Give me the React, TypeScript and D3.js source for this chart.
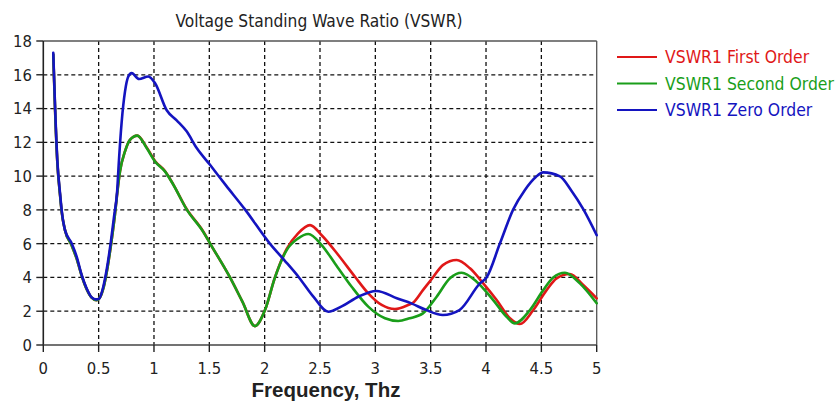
import React from "react";
import * as d3 from "d3";

const seriesNames = ["VSWR1 First Order", "VSWR1 Second Order", "VSWR1 Zero Order"];
const seriesColors = ["#e01818", "#1a9e1a", "#1414c0"];

const xTicks = [0, 0.5, 1, 1.5, 2, 2.5, 3, 3.5, 4, 4.5, 5];
const xTickLabels = ["0", "0.5", "1", "1.5", "2", "2.5", "3", "3.5", "4", "4.5", "5"];
const yTicks = [0, 2, 4, 6, 8, 10, 12, 14, 16, 18];

// Zero order (blue)
const zeroX = [0.09, 0.106, 0.127, 0.151, 0.166, 0.196, 0.256, 0.302, 0.347, 0.392, 0.437, 0.475, 0.505, 0.542, 0.572, 0.609, 0.639, 0.668, 0.681, 0.708, 0.738, 0.768, 0.798, 0.865, 0.949, 1.01, 1.115, 1.205, 1.295, 1.386, 1.506, 1.65, 1.822, 2.045, 2.177, 2.31, 2.44, 2.575, 2.7, 2.846, 3.01, 3.2, 3.33, 3.45, 3.61, 3.76, 3.945, 4.005, 4.126, 4.246, 4.35, 4.45, 4.517, 4.668, 4.77, 4.88, 5.0];
const zeroY = [17.3, 14.2, 10.9, 9.0, 7.99, 6.8, 6.02, 5.22, 4.14, 3.35, 2.82, 2.7, 2.75, 3.45, 4.44, 6.05, 7.6, 9.17, 10.67, 13.2, 15.0, 15.9, 16.1, 15.75, 15.9, 15.5, 13.9, 13.3, 12.65, 11.66, 10.67, 9.45, 8.03, 6.02, 5.03, 4.0, 2.86, 1.97, 2.3, 2.86, 3.2, 2.75, 2.45, 2.1, 1.78, 2.07, 3.65, 4.0, 6.02, 8.03, 9.17, 9.95, 10.22, 9.98, 9.15, 8.03, 6.5];

// Second order (green)
const secondX = [0.09, 0.106, 0.127, 0.151, 0.166, 0.196, 0.256, 0.302, 0.347, 0.392, 0.437, 0.48, 0.51, 0.548, 0.578, 0.615, 0.645, 0.668, 0.693, 0.738, 0.783, 0.849, 0.934, 1.009, 1.099, 1.175, 1.295, 1.445, 1.506, 1.687, 1.8, 1.912, 2.003, 2.093, 2.199, 2.3, 2.394, 2.515, 2.635, 2.786, 2.936, 3.087, 3.207, 3.31, 3.43, 3.554, 3.674, 3.78, 3.915, 4.065, 4.186, 4.261, 4.397, 4.517, 4.607, 4.713, 4.848, 5.0];
const secondY = [17.2, 14.0, 10.8, 8.9, 7.9, 6.8, 5.9, 5.1, 4.1, 3.3, 2.8, 2.65, 2.8, 3.5, 4.5, 6.1, 7.6, 9.0, 10.28, 11.46, 12.15, 12.4, 11.66, 10.87, 10.28, 9.49, 8.03, 6.7, 6.02, 4.0, 2.55, 1.12, 2.07, 4.0, 5.62, 6.3, 6.57, 5.92, 4.83, 3.45, 2.27, 1.58, 1.42, 1.58, 1.87, 2.86, 3.95, 4.28, 3.75, 2.66, 1.67, 1.28, 2.07, 3.25, 4.0, 4.28, 3.65, 2.47];

// First order (red)
const firstX = [0.09, 0.106, 0.127, 0.151, 0.166, 0.196, 0.256, 0.302, 0.347, 0.392, 0.437, 0.48, 0.51, 0.548, 0.578, 0.615, 0.645, 0.668, 0.693, 0.738, 0.783, 0.849, 0.934, 1.009, 1.099, 1.175, 1.295, 1.445, 1.506, 1.687, 1.8, 1.912, 2.003, 2.093, 2.199, 2.3, 2.41, 2.515, 2.665, 2.816, 2.936, 3.057, 3.177, 3.297, 3.34, 3.43, 3.52, 3.61, 3.735, 3.855, 3.975, 4.096, 4.216, 4.306, 4.427, 4.547, 4.638, 4.758, 4.878, 5.0];
const firstY = [17.2, 14.0, 10.8, 8.9, 7.9, 6.8, 5.9, 5.1, 4.1, 3.3, 2.8, 2.65, 2.8, 3.5, 4.5, 6.1, 7.6, 9.0, 10.28, 11.46, 12.15, 12.4, 11.7, 10.9, 10.3, 9.5, 8.05, 6.72, 6.02, 4.0, 2.55, 1.12, 2.07, 4.0, 5.7, 6.6, 7.1, 6.5, 5.33, 4.04, 3.06, 2.37, 2.13, 2.37, 2.5, 3.25, 4.0, 4.73, 5.03, 4.54, 3.65, 2.66, 1.58, 1.24, 2.07, 3.25, 3.95, 4.2, 3.55, 2.76];

const W = 837;
const H = 401;
const left = 43.3;
const right = 596.7;
const top = 41;
const bottom = 345;

const labelFont = "'DejaVu Sans Condensed', 'DejaVu Sans', sans-serif";

export default function App() {
  const x = d3.scaleLinear().domain([0, 5]).range([left, right]);
  const y = d3.scaleLinear().domain([0, 18]).range([bottom, top]);

  const line = d3
    .line<[number, number]>()
    .x((d) => x(d[0]))
    .y((d) => y(d[1]))
    .curve(d3.curveMonotoneX);

  const series = [
    { name: seriesNames[0], color: seriesColors[0], xs: firstX, ys: firstY },
    { name: seriesNames[1], color: seriesColors[1], xs: secondX, ys: secondY },
    { name: seriesNames[2], color: seriesColors[2], xs: zeroX, ys: zeroY },
  ];

  return (
    <svg
      width={W}
      height={H}
      style={{ position: "absolute", left: 0, top: 0, background: "#fff" }}
    >
      <rect x={0} y={0} width={W} height={H} fill="#fff" />
      {/* grid */}
      {xTicks.slice(1, -1).map((t) => (
        <line
          key={"gx" + t}
          x1={x(t)}
          x2={x(t)}
          y1={top}
          y2={bottom}
          stroke="#111"
          strokeWidth={1.3}
          strokeDasharray="4,3"
        />
      ))}
      {yTicks.slice(1, -1).map((t) => (
        <line
          key={"gy" + t}
          x1={left}
          x2={right}
          y1={y(t)}
          y2={y(t)}
          stroke="#111"
          strokeWidth={1.3}
          strokeDasharray="4,3"
        />
      ))}
      {/* frame */}
      <line x1={left} x2={right} y1={top} y2={top} stroke="#555" strokeWidth={1.3} />
      <line x1={right} x2={right} y1={top} y2={bottom} stroke="#555" strokeWidth={1.3} />
      <line x1={left} x2={left} y1={top} y2={bottom} stroke="#222" strokeWidth={1.6} />
      <line x1={left} x2={right} y1={bottom} y2={bottom} stroke="#444" strokeWidth={1.6} />
      {/* ticks */}
      {yTicks.map((t) => (
        <g key={"yt" + t}>
          <line x1={left - 7} x2={left} y1={y(t)} y2={y(t)} stroke="#222" strokeWidth={1.4} />
          <text
            x={32}
            y={y(t)}
            dy="0.36em"
            textAnchor="end"
            fontFamily={labelFont}
            fontSize={16.5}
            fill="#222"
          >
            {t}
          </text>
        </g>
      ))}
      {xTicks.map((t, i) => (
        <g key={"xt" + t}>
          <line x1={x(t)} x2={x(t)} y1={bottom} y2={bottom + 7} stroke="#222" strokeWidth={1.4} />
          <text
            x={x(t)}
            y={373.5}
            textAnchor="middle"
            fontFamily={labelFont}
            fontSize={16.5}
            fill="#222"
          >
            {xTickLabels[i]}
          </text>
        </g>
      ))}
      {/* series */}
      {series.map((s) => (
        <path
          key={s.name}
          d={line(s.xs.map((v, i) => [v, s.ys[i]] as [number, number])) || ""}
          fill="none"
          stroke={s.color}
          strokeWidth={2.6}
          strokeLinejoin="round"
          strokeLinecap="round"
        />
      ))}
      {/* title */}
      <text
        x={319}
        y={27}
        textAnchor="middle"
        fontFamily={labelFont}
        fontSize={17.2}
        fill="#222"
      >
        Voltage Standing Wave Ratio (VSWR)
      </text>
      {/* x axis title */}
      <text
        x={326}
        y={397}
        textAnchor="middle"
        fontFamily="'Liberation Sans', Arial, sans-serif"
        fontWeight="bold"
        fontSize={20.5}
        fill="#222"
      >
        Frequency, Thz
      </text>
      {/* legend */}
      {series.map((s, i) => (
        <g key={"lg" + s.name}>
          <line
            x1={617}
            x2={657}
            y1={57 + i * 26.5}
            y2={57 + i * 26.5}
            stroke={s.color}
            strokeWidth={2.2}
          />
          <text
            x={665}
            y={57 + i * 26.5}
            dy="0.36em"
            fontFamily={labelFont}
            fontSize={17.4}
            fill={s.color}
          >
            {s.name}
          </text>
        </g>
      ))}
    </svg>
  );
}
